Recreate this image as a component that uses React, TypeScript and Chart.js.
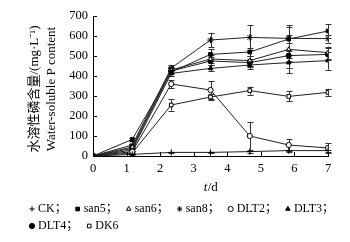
import React, { useEffect, useRef } from 'react';
import { Chart, registerables } from 'chart.js';
import { drawPoint } from 'chart.js/helpers';

Chart.register(...registerables);

// sampling days
const days = [0, 1.17, 2.33, 3.5, 4.67, 5.83, 7];

// water-soluble P content (mg/L)
const ck = [0, 8, 18, 18, 22, 27, 27];
const san5 = [0, 83, 420, 508, 520, 585, 625];
const san6 = [0, 45, 430, 485, 477, 533, 517];
const san8 = [0, 55, 440, 580, 593, 588, 587];
const dlt2 = [0, 22, 360, 330, 100, 55, 40];
const dlt3 = [0, 30, 413, 438, 455, 467, 477];
const dlt4 = [0, 38, 425, 475, 467, 502, 508];
const dk6 = [0, 15, 255, 295, 327, 298, 318];

// error (± mg/L)
const ckErr = [0, 3, 3, 3, 5, 5, 5];
const san5Err = [0, 8, 20, 25, 20, 20, 35];
const san6Err = [0, 5, 15, 20, 25, 120, 30];
const san8Err = [0, 5, 15, 36, 62, 55, 20];
const dlt2Err = [0, 5, 20, 45, 68, 30, 25];
const dlt3Err = [0, 5, 15, 15, 20, 25, 45];
const dlt4Err = [0, 5, 15, 20, 20, 25, 30];
const dk6Err = [0, 5, 28, 15, 20, 25, 18];

const seriesNames = ['CK', 'san5', 'san6', 'san8', 'DLT2', 'DLT3', 'DLT4', 'DK6'];
const seriesValues = [ck, san5, san6, san8, dlt2, dlt3, dlt4, dk6];
const seriesErrors = [ckErr, san5Err, san6Err, san8Err, dlt2Err, dlt3Err, dlt4Err, dk6Err];

const xTickValues = [0, 1, 2, 3, 4, 5, 6, 7];
const yTickValues = [0, 100, 200, 300, 400, 500, 600, 700];

const yTitleCn = '水溶性磷含量/(mg·L⁻¹)';
const yTitleEn = 'Water-soluble P content';

// styles
const markerStyles = ['cross', 'rect', 'triangle', 'star', 'circle', 'triangle', 'circle', 'rect'];
const markerFilled = [false, true, false, false, false, true, true, false];

const SERIF = "'Liberation Serif', 'Noto Sans CJK SC', serif";

const decoPlugin = {
  id: 'deco',
  beforeDatasetsDraw(chart: any) {
    const ctx = chart.ctx;
    const xs = chart.scales.x;
    const ys = chart.scales.y;
    ctx.save();
    ctx.strokeStyle = '#333';
    ctx.lineWidth = 1;
    seriesErrors.forEach((errs, si) => {
      errs.forEach((e, j) => {
        if (!e) return;
        const v = seriesValues[si][j];
        const x = Math.round(xs.getPixelForValue(days[j])) + 0.5;
        const y1 = ys.getPixelForValue(v + e);
        const y2 = ys.getPixelForValue(Math.max(0, v - e));
        ctx.beginPath();
        ctx.moveTo(x, y1);
        ctx.lineTo(x, y2);
        ctx.moveTo(x - 3, Math.round(y1) + 0.5);
        ctx.lineTo(x + 3, Math.round(y1) + 0.5);
        ctx.moveTo(x - 3, Math.round(y2) + 0.5);
        ctx.lineTo(x + 3, Math.round(y2) + 0.5);
        ctx.stroke();
      });
    });
    ctx.restore();
  },
  afterDraw(chart: any) {
    const ctx = chart.ctx;
    const xs = chart.scales.x;
    const ys = chart.scales.y;
    const area = chart.chartArea;
    ctx.save();
    // inward tick marks
    ctx.strokeStyle = '#000';
    ctx.lineWidth = 1;
    ctx.beginPath();
    yTickValues.forEach((v) => {
      const y = Math.round(ys.getPixelForValue(v)) + 0.5;
      ctx.moveTo(area.left, y);
      ctx.lineTo(area.left + 4, y);
    });
    xTickValues.forEach((v) => {
      const x = Math.round(xs.getPixelForValue(v)) + 0.5;
      ctx.moveTo(x, area.bottom);
      ctx.lineTo(x, area.bottom - 4);
    });
    ctx.stroke();

    // y title (two lines, rotated)
    ctx.fillStyle = '#000';
    ctx.textAlign = 'center';
    ctx.textBaseline = 'middle';
    const cy = (area.top + area.bottom) / 2 + 3;
    ctx.save();
    ctx.translate(35, cy);
    ctx.rotate(-Math.PI / 2);
    ctx.font = `13px ${SERIF}`;
    ctx.fillText(yTitleCn, 0, 0);
    ctx.restore();
    ctx.save();
    ctx.translate(52, cy);
    ctx.rotate(-Math.PI / 2);
    ctx.font = `13px ${SERIF}`;
    ctx.fillText(yTitleEn, 0, 0);
    ctx.restore();

    // x title t/d
    ctx.textAlign = 'left';
    ctx.font = `italic 13px ${SERIF}`;
    const wT = ctx.measureText('t').width;
    ctx.font = `13px ${SERIF}`;
    const wD = ctx.measureText('/d').width;
    const cx = (area.left + area.right) / 2;
    const sx = cx - (wT + wD) / 2;
    ctx.font = `italic 13px ${SERIF}`;
    ctx.fillText('t', sx, 188);
    ctx.font = `13px ${SERIF}`;
    ctx.fillText('/d', sx + wT + 0.5, 188);

    // legend
    const rows = [[0, 1, 2, 3, 4, 5], [6, 7]];
    const rowY = [209, 226];
    ctx.font = `12px ${SERIF}`;
    rows.forEach((row, ri) => {
      let mx = 32;
      const y = rowY[ri];
      row.forEach((si, k) => {
        ctx.fillStyle = markerFilled[si] ? '#000' : '#fff';
        ctx.strokeStyle = '#000';
        ctx.lineWidth = 1;
        drawPoint(ctx, { pointStyle: markerStyles[si], radius: 2.6, rotation: 0, borderWidth: 1 }, mx, y);
        const label = seriesNames[si] + (k < row.length - 1 || ri === 0 ? '；' : '');
        ctx.fillStyle = '#000';
        ctx.textBaseline = 'middle';
        ctx.textAlign = 'left';
        ctx.fillText(label, mx + 6, y);
        const w = ctx.measureText(label).width;
        mx = mx + 6 + w + 11;
      });
    });
    ctx.restore();
  },
};

export default function App() {
  const ref = useRef<HTMLCanvasElement | null>(null);
  useEffect(() => {
    if (!ref.current) return;
    const datasets = seriesNames.map((name, si) => ({
      label: name,
      data: days.map((d, j) => ({ x: d, y: seriesValues[si][j] })),
      borderColor: '#222',
      borderWidth: 1,
      tension: 0,
      fill: false,
      pointStyle: markerStyles[si],
      pointRadius: markerStyles[si] === 'cross' || markerStyles[si] === 'star' ? 3.2 : 2.6,
      pointBorderColor: '#000',
      pointBackgroundColor: markerFilled[si] ? '#000' : '#fff',
      pointBorderWidth: 1,
    }));
    const chart = new Chart(ref.current, {
      type: 'line',
      data: { datasets },
      options: {
        responsive: false,
        animation: false,
        devicePixelRatio: 1,
        layout: { padding: { left: 0, right: 22, top: 16, bottom: 0 } },
        plugins: { legend: { display: false }, tooltip: { enabled: false } },
        scales: {
          x: {
            type: 'linear',
            min: 0,
            max: 7,
            afterFit: (s: any) => {
              s.height = 86;
            },
            afterBuildTicks: (s: any) => {
              s.ticks = xTickValues.map((v) => ({ value: v }));
            },
            ticks: {
              padding: 5,
              color: '#000',
              maxRotation: 0,
              autoSkip: false,
              font: { family: SERIF, size: 12.5 },
            },
            grid: { display: true, drawOnChartArea: false, drawTicks: false },
            border: { display: true, color: '#000', width: 1 },
          },
          y: {
            type: 'linear',
            min: 0,
            max: 700,
            afterFit: (s: any) => {
              s.width = 93;
            },
            afterBuildTicks: (s: any) => {
              s.ticks = yTickValues.map((v) => ({ value: v }));
            },
            ticks: {
              padding: 5,
              color: '#000',
              autoSkip: false,
              font: { family: SERIF, size: 12.5 },
            },
            grid: { display: true, drawOnChartArea: false, drawTicks: false },
            border: { display: true, color: '#000', width: 1 },
          },
        },
      },
      plugins: [decoPlugin],
    } as any);
    return () => chart.destroy();
  }, []);
  return (
    <div style={{ position: 'fixed', left: 0, top: 0, width: 350, height: 242, background: '#fff' }}>
      <canvas ref={ref} width={350} height={242} style={{ width: 350, height: 242, display: 'block' }} />
    </div>
  );
}
